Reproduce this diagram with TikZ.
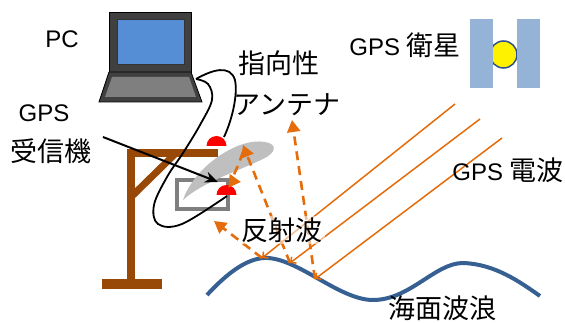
\documentclass[tikz,border=0pt]{standalone}
\usepackage{fontspec}
\setmainfont{Liberation Sans}
\newfontfamily\jpfont{Noto Sans CJK JP}
\usetikzlibrary{arrows.meta}

\definecolor{wood}{RGB}{152,72,7}
\definecolor{screenblue}{RGB}{85,142,213}
\definecolor{panelblue}{RGB}{149,179,215}
\definecolor{seablue}{RGB}{55,96,146}
\definecolor{signal}{RGB}{228,108,10}
\definecolor{dishgray}{RGB}{191,191,191}
\definecolor{boxgray}{RGB}{127,127,127}
\definecolor{darkbody}{RGB}{64,64,64}
\definecolor{rimblue}{RGB}{47,82,143}

\newcommand{\ja}[1]{{\jpfont\fontsize{27}{30}\selectfont #1}}

\begin{document}
\begin{tikzpicture}[x=1pt,y=-1pt,
  lbl/.style={font=\fontsize{24}{28}\selectfont, inner sep=0pt, anchor=center},
  cable/.style={black, line width=1.8pt},
  gpsray/.style={signal, line width=1.5pt, -{Straight Barb[length=4pt,width=8pt]}},
  echo/.style={signal, line width=2.6pt, dash pattern=on 9pt off 6pt,
               -{Triangle[length=12pt,width=13pt]}},
  dome/.style={fill=red},
  laptopbody/.style={draw=black, fill=darkbody, line width=0.8pt}]

\useasboundingbox (0,0) rectangle (565,323);

% gallows-shaped mount
\fill[wood] (127,149) rectangle (135,281);
\fill[wood] (127,149) rectangle (218,157);
\fill[wood] (102,279) rectangle (162,289);
\draw[wood, line width=7pt] (131,197) -- (176,153);

% receiver housing
\draw[boxgray, line width=4pt] (177,180) rectangle (228,209);

% directional antenna dish
\fill[dishgray] (183,200) .. controls (194,167) and (238,137) .. (265,142)
  .. controls (278,144) and (276,153) .. (263,159)
  .. controls (236,172) and (203,182) .. cycle;

% laptop
\filldraw[laptopbody] (109,12) rectangle (191,72);
\filldraw[draw=black!80, fill=screenblue, line width=0.8pt] (117,19) rectangle (184,64);
\filldraw[laptopbody] (109,72) -- (191,72) -- (202,102) -- (99,102) -- cycle;
\fill[boxgray] (112,77) -- (189,77) -- (196,97) -- (105,97) -- cycle;

% cable end points
\coordinate (port) at (196,79);
\coordinate (domeA) at (224,137);
\coordinate (domeB) at (227,196);

% cables from the PC
\draw[cable] (port) .. controls (212,70) and (230,64) .. (235,80)
  .. controls (238,95) and (232,120) .. (domeA);
\draw[cable] plot[smooth, tension=0.6] coordinates
  {(port) (208,84) (212,100) (200,125) (183,153) (167,177) (154,205)
   (158,224) (182,224) (domeB)};

% pointer to the receiver
\coordinate (rxtail) at (103,137);
\coordinate (rxtip) at (218,182);
\draw[line width=2pt, -{Stealth[length=13pt,width=11pt]}] (rxtail) -- (rxtip);

% antenna elements
\fill[dome] (206.5,146) arc[start angle=180, end angle=0, radius=10pt] -- cycle;
\fill[dome] (216.5,195) arc[start angle=180, end angle=0, radius=10pt] -- cycle;

% satellite
\filldraw[fill=yellow, draw=rimblue, line width=1.5pt] (503.5,54.5) circle[radius=13.5pt];
\fill[panelblue] (470,19) rectangle (493,88);
\fill[panelblue] (517,19) rectangle (540,88);

% sea surface
\draw[seablue, line width=4pt] (207,295) .. controls (230,270) and (250,257) .. (268,258)
  .. controls (300,260) and (340,300) .. (373,300)
  .. controls (410,300) and (435,263) .. (463,263)
  .. controls (495,264) and (520,282) .. (540,296);

% incoming and reflected signals
\coordinate (s1) at (455,104);
\coordinate (s2) at (480,119);
\coordinate (s3) at (502,138);
\coordinate (w1) at (262,258);
\coordinate (w2) at (290,263);
\coordinate (w3) at (315,279);
\coordinate (r1) at (214,221);
\coordinate (r2) at (243,145);
\coordinate (r3) at (292,120);
\coordinate (r4) at (241,182);

\draw[gpsray] (s1) -- (w1);
\draw[gpsray] (s2) -- (w2);
\draw[gpsray] (s3) -- (w3);

\draw[echo] (w1) -- (r1);
\draw[echo] (w2) -- (r2);
\draw[echo] (w3) -- (r3);
\draw[echo] (243,152) .. controls (236,172) and (231,181) .. (r4);

% labels
\node[lbl] (pc) at (62,39) {PC};
\node[lbl] (gpsrx) at (44,113) {GPS};
\node[lbl] (rx) at (50.5,151.5) {\ja{受信機}};
\node[lbl] (ant1) at (279,63.5) {\ja{指向性}};
\node[lbl] (ant2) at (287,105) {\ja{アンテナ}};
\node[lbl] (sat) at (405,45) {GPS \ja{衛星}};
\node[lbl] (wave) at (508,170) {GPS \ja{電波}};
\node[lbl, fill=white, fill opacity=0.55, text opacity=1, inner sep=2pt] (refl) at (282,230) {\ja{反射波}};
\node[lbl] (sea) at (442,308) {\ja{海面波浪}};

\end{tikzpicture}
\end{document}
